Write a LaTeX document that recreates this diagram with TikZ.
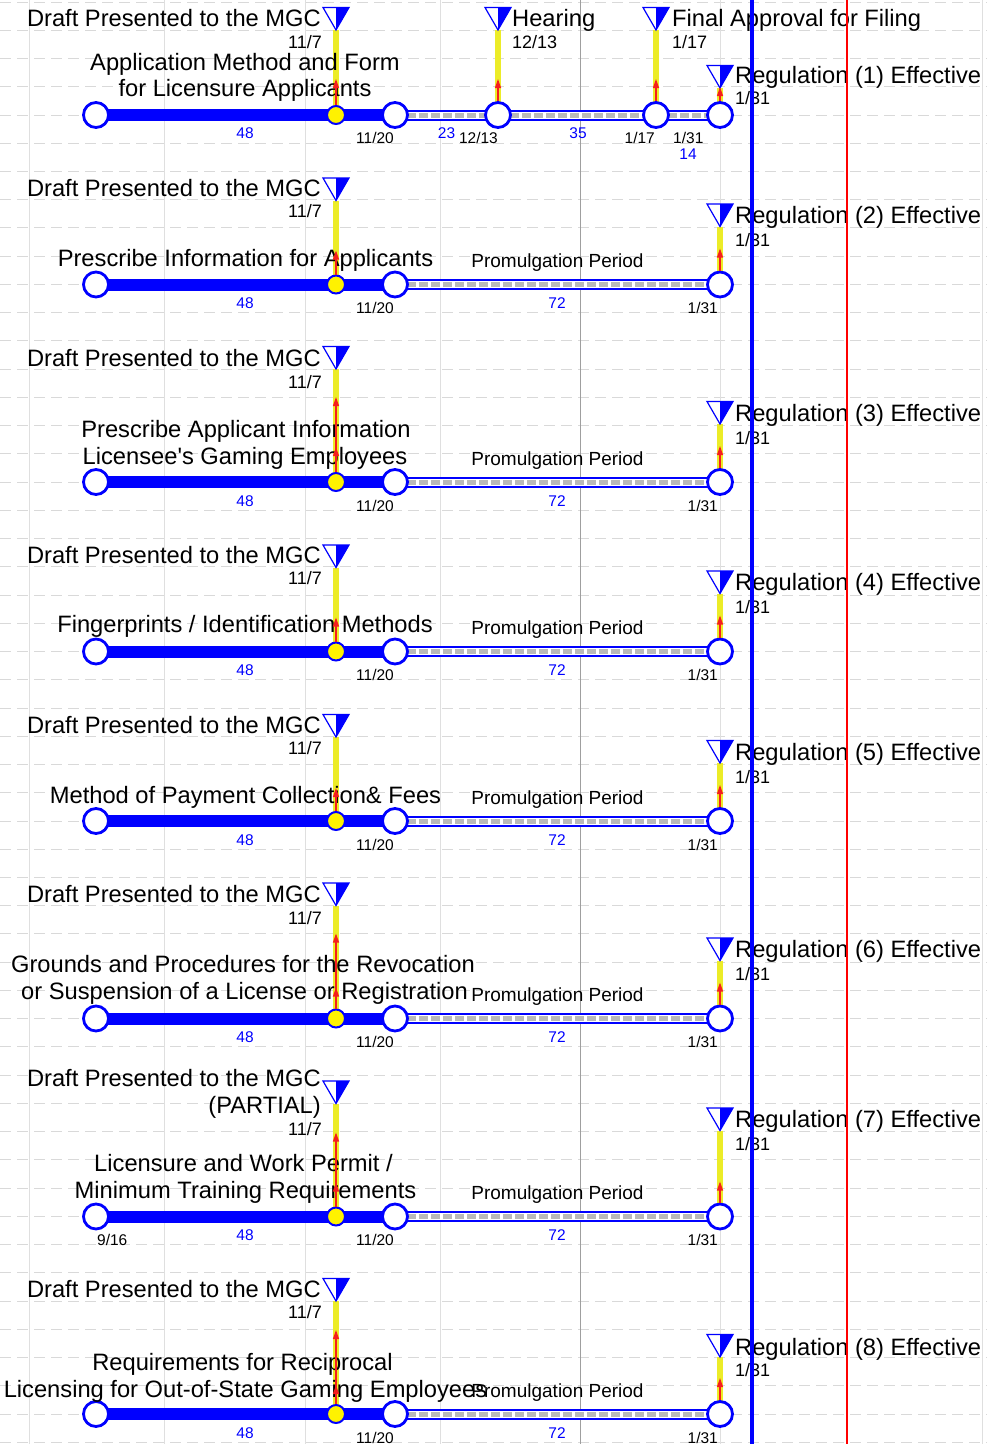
\documentclass[tikz,border=0pt]{standalone}
\usepackage{fontspec}
\setmainfont{Liberation Sans}
\usetikzlibrary{shapes.geometric,arrows.meta,backgrounds}
\definecolor{stemyellow}{RGB}{236,236,40}
\definecolor{linkred}{RGB}{245,30,30}
\definecolor{todayred}{RGB}{255,0,0}
\tikzset{
  bigtxt/.style={font=\fontsize{23.7}{27}\selectfont,inner sep=0pt},
  topdate/.style={font=\fontsize{18}{21}\selectfont,inner sep=0pt},
  botdate/.style={font=\fontsize{15.5}{18}\selectfont,inner sep=0pt},
  durtxt/.style={font=\fontsize{15.5}{18}\selectfont,text=blue,inner sep=0pt},
  promtxt/.style={font=\fontsize{19}{22}\selectfont,inner sep=0pt},
  evt/.style={circle,draw=blue,line width=2.8pt,fill=white,minimum size=25pt,inner sep=0pt},
  ydot/.style={circle,draw=blue,line width=2pt,fill=yellow,minimum size=18pt,inner sep=0pt},
  mstone/.style={regular polygon,regular polygon sides=3,shape border rotate=180,draw=blue,line width=1.2pt,fill=white,minimum size=30pt,inner sep=0pt,outer sep=0pt,
    path picture={\fill[blue] (path picture bounding box.north) rectangle (path picture bounding box.south east);}},
  donebar/.style={blue,line width=12pt},
  todobar/.style={draw=blue,line width=11pt,postaction={draw=white,line width=7pt},postaction={draw=gray!55,line width=5pt,dash pattern=on 8.5pt off 3.5pt}},
  stem/.style={draw=stemyellow,line width=6pt},
  link/.style={draw=linkred,line width=1.2pt,-{Triangle[length=9pt,width=6pt]}},
  hgrid/.style={gray!30,line width=1pt,dash pattern=on 11pt off 6pt},
  vgrid/.style={gray!25,line width=1pt}
}
\begin{document}
\begin{tikzpicture}[x=1pt,y=-1pt]
\useasboundingbox (0,0) rectangle (987,1444);
\node[evt] (s1) at (96,115) {};
\node[ydot] (y1) at (336,115) {};
\node[evt] (d1) at (395,115) {};
\node[evt] (h1) at (498,115) {};
\node[evt] (f1) at (656,115) {};
\node[evt] (e1) at (720,115) {};
\node[mstone,anchor=corner 1] (mg1) at (336,30) {};
\node[mstone,anchor=corner 1] (mh1) at (498,30) {};
\node[mstone,anchor=corner 1] (mf1) at (656,30) {};
\node[mstone,anchor=corner 1] (mr1) at (720,88) {};
\node[bigtxt,anchor=base east] (lg1) at (321,26) {Draft Presented to the MGC};
\node[topdate,anchor=base east] (ld1) at (322,48) {11/7};
\node[bigtxt,anchor=base west] (lh1) at (512,26) {Hearing};
\node[topdate,anchor=base west] (lhd1) at (512,48) {12/13};
\node[bigtxt,anchor=base west] (lf1) at (672,26) {Final Approval for Filing};
\node[topdate,anchor=base west] (lfd1) at (672,48) {1/17};
\node[bigtxt,anchor=base west] (lr1) at (735,83) {Regulation (1) Effective};
\node[topdate,anchor=base west] (lrd1) at (735,104) {1/31};
\node[bigtxt,anchor=base] (lt1a) at (245,70) {Application Method and Form};
\node[bigtxt,anchor=base] (lt1b) at (245,96) {for Licensure Applicants};
\node[durtxt,anchor=base] (n1a) at (245,138) {48};
\node[durtxt,anchor=base] (n1b) at (446.5,138) {23};
\node[durtxt,anchor=base] (n1c) at (578,138) {35};
\node[durtxt,anchor=base] (n1d) at (688,159) {14};
\node[botdate,anchor=base east] (b1a) at (394,143) {11/20};
\node[botdate,anchor=base east] (b1b) at (498,143) {12/13};
\node[botdate,anchor=base east] (b1c) at (655,143) {1/17};
\node[botdate,anchor=base west] (b1d) at (673,143) {1/31};
\coordinate (k1) at (336,79);
\coordinate (kh1) at (498,79);
\coordinate (kf1) at (656,79);
\coordinate (kr1) at (720,87);
\draw[link] (y1) -- (k1);
\draw[link] (h1) -- (kh1);
\draw[link] (f1) -- (kf1);
\draw[link] (e1) -- (kr1);

\node[evt] (s2) at (96,284.5) {};
\node[ydot] (y2) at (336,284.5) {};
\node[evt] (d2) at (395,284.5) {};
\node[evt] (e2) at (720,284.5) {};
\node[mstone,anchor=corner 1] (mg2) at (336,200.5) {};
\node[mstone,anchor=corner 1] (mr2) at (720,226.5) {};
\node[bigtxt,anchor=base east] (lg2) at (321,196.5) {Draft Presented to the MGC};
\node[topdate,anchor=base east] (ld2) at (322,217.5) {11/7};
\node[bigtxt,anchor=base] (lt2) at (245.5,266.5) {Prescribe Information for Applicants};
\node[promtxt,anchor=base] (p2) at (557.5,267.5) {Promulgation Period};
\node[durtxt,anchor=base] (n2a) at (245,308.5) {48};
\node[durtxt,anchor=base] (n2b) at (557,308.5) {72};
\node[botdate,anchor=base east] (b2a) at (394,313.5) {11/20};
\node[botdate,anchor=base east] (b2b) at (718,313.5) {1/31};
\node[bigtxt,anchor=base west] (lr2) at (735,223.5) {Regulation (2) Effective};
\node[topdate,anchor=base west] (lrd2) at (735,246.5) {1/31};
\coordinate (k2) at (336,250.5);
\coordinate (kr2) at (720,248.5);
\draw[link] (y2) -- (k2);
\draw[link] (e2) -- (kr2);

\node[evt] (s3) at (96,482) {};
\node[ydot] (y3) at (336,482) {};
\node[evt] (d3) at (395,482) {};
\node[evt] (e3) at (720,482) {};
\node[mstone,anchor=corner 1] (mg3) at (336,369) {};
\node[mstone,anchor=corner 1] (mr3) at (720,424) {};
\node[bigtxt,anchor=base east] (lg3) at (321,366) {Draft Presented to the MGC};
\node[topdate,anchor=base east] (ld3) at (322,388) {11/7};
\node[bigtxt,anchor=base] (lt3a) at (246,437) {Prescribe Applicant Information};
\node[bigtxt,anchor=base] (lt3b) at (245,464) {Licensee\textquotesingle s Gaming Employees};
\node[promtxt,anchor=base] (p3) at (557.5,465) {Promulgation Period};
\node[durtxt,anchor=base] (n3a) at (245,506) {48};
\node[durtxt,anchor=base] (n3b) at (557,506) {72};
\node[botdate,anchor=base east] (b3a) at (394,511) {11/20};
\node[botdate,anchor=base east] (b3b) at (718,511) {1/31};
\node[bigtxt,anchor=base west] (lr3) at (735,421) {Regulation (3) Effective};
\node[topdate,anchor=base west] (lrd3) at (735,444) {1/31};
\coordinate (k3a) at (336,447);
\coordinate (k3b) at (336,397);
\coordinate (kr3) at (720,446);
\draw[link] (y3) -- (k3a);
\draw[link] (y3) -- (k3b);
\draw[link] (e3) -- (kr3);

\node[evt] (s4) at (96,651.5) {};
\node[ydot] (y4) at (336,651.5) {};
\node[evt] (d4) at (395,651.5) {};
\node[evt] (e4) at (720,651.5) {};
\node[mstone,anchor=corner 1] (mg4) at (336,567.5) {};
\node[mstone,anchor=corner 1] (mr4) at (720,593.5) {};
\node[bigtxt,anchor=base east] (lg4) at (321,563.5) {Draft Presented to the MGC};
\node[topdate,anchor=base east] (ld4) at (322,584.5) {11/7};
\node[bigtxt,anchor=base] (lt4) at (245,632.5) {Fingerprints / Identification Methods};
\node[promtxt,anchor=base] (p4) at (557.5,634.5) {Promulgation Period};
\node[durtxt,anchor=base] (n4a) at (245,675.5) {48};
\node[durtxt,anchor=base] (n4b) at (557,675.5) {72};
\node[botdate,anchor=base east] (b4a) at (394,680.5) {11/20};
\node[botdate,anchor=base east] (b4b) at (718,680.5) {1/31};
\node[bigtxt,anchor=base west] (lr4) at (735,590.5) {Regulation (4) Effective};
\node[topdate,anchor=base west] (lrd4) at (735,613.5) {1/31};
\coordinate (k4) at (336,617.5);
\coordinate (kr4) at (720,615.5);
\draw[link] (y4) -- (k4);
\draw[link] (e4) -- (kr4);

\node[evt] (s5) at (96,821) {};
\node[ydot] (y5) at (336,821) {};
\node[evt] (d5) at (395,821) {};
\node[evt] (e5) at (720,821) {};
\node[mstone,anchor=corner 1] (mg5) at (336,737) {};
\node[mstone,anchor=corner 1] (mr5) at (720,763) {};
\node[bigtxt,anchor=base east] (lg5) at (321,733) {Draft Presented to the MGC};
\node[topdate,anchor=base east] (ld5) at (322,754) {11/7};
\node[bigtxt,anchor=base] (lt5) at (245.5,803) {Method of Payment Collection\& Fees};
\node[promtxt,anchor=base] (p5) at (557.5,804) {Promulgation Period};
\node[durtxt,anchor=base] (n5a) at (245,845) {48};
\node[durtxt,anchor=base] (n5b) at (557,845) {72};
\node[botdate,anchor=base east] (b5a) at (394,850) {11/20};
\node[botdate,anchor=base east] (b5b) at (718,850) {1/31};
\node[bigtxt,anchor=base west] (lr5) at (735,760) {Regulation (5) Effective};
\node[topdate,anchor=base west] (lrd5) at (735,783) {1/31};
\coordinate (k5) at (336,788);
\coordinate (kr5) at (720,785);
\draw[link] (y5) -- (k5);
\draw[link] (e5) -- (kr5);

\node[evt] (s6) at (96,1018.5) {};
\node[ydot] (y6) at (336,1018.5) {};
\node[evt] (d6) at (395,1018.5) {};
\node[evt] (e6) at (720,1018.5) {};
\node[mstone,anchor=corner 1] (mg6) at (336,905.5) {};
\node[mstone,anchor=corner 1] (mr6) at (720,960.5) {};
\node[bigtxt,anchor=base east] (lg6) at (321,902.5) {Draft Presented to the MGC};
\node[topdate,anchor=base east] (ld6) at (322,924.5) {11/7};
\node[bigtxt,anchor=base] (lt6a) at (243,972.5) {Grounds and Procedures for the Revocation};
\node[bigtxt,anchor=base] (lt6b) at (244.5,999.5) {or Suspension of a License or Registration};
\node[promtxt,anchor=base] (p6) at (557.5,1001.5) {Promulgation Period};
\node[durtxt,anchor=base] (n6a) at (245,1042.5) {48};
\node[durtxt,anchor=base] (n6b) at (557,1042.5) {72};
\node[botdate,anchor=base east] (b6a) at (394,1047.5) {11/20};
\node[botdate,anchor=base east] (b6b) at (718,1047.5) {1/31};
\node[bigtxt,anchor=base west] (lr6) at (735,957.5) {Regulation (6) Effective};
\node[topdate,anchor=base west] (lrd6) at (735,980.5) {1/31};
\coordinate (k6a) at (336,987.5);
\coordinate (k6b) at (336,933.5);
\coordinate (kr6) at (720,982.5);
\draw[link] (y6) -- (k6a);
\draw[link] (y6) -- (k6b);
\draw[link] (e6) -- (kr6);

\node[evt] (s7) at (96,1216.5) {};
\node[ydot] (y7) at (336,1216.5) {};
\node[evt] (d7) at (395,1216.5) {};
\node[evt] (e7) at (720,1216.5) {};
\node[mstone,anchor=corner 1] (mg7) at (336,1103.5) {};
\node[mstone,anchor=corner 1] (mr7) at (720,1130.5) {};
\node[bigtxt,anchor=base east] (lg7a) at (321,1086.5) {Draft Presented to the MGC};
\node[bigtxt,anchor=base east] (lg7b) at (321,1113.5) {(PARTIAL)};
\node[topdate,anchor=base east] (ld7) at (322,1135.5) {11/7};
\node[bigtxt,anchor=base] (lt7a) at (243.5,1171.5) {Licensure and Work Permit /};
\node[bigtxt,anchor=base] (lt7b) at (245.5,1198.5) {Minimum Training Requirements};
\node[promtxt,anchor=base] (p7) at (557.5,1199.5) {Promulgation Period};
\node[durtxt,anchor=base] (n7a) at (245,1240.5) {48};
\node[durtxt,anchor=base] (n7b) at (557,1240.5) {72};
\node[botdate,anchor=base west] (b7s) at (97,1245.5) {9/16};
\node[botdate,anchor=base east] (b7a) at (394,1245.5) {11/20};
\node[botdate,anchor=base east] (b7b) at (718,1245.5) {1/31};
\node[bigtxt,anchor=base west] (lr7) at (735,1127.5) {Regulation (7) Effective};
\node[topdate,anchor=base west] (lrd7) at (735,1150.5) {1/31};
\coordinate (k7a) at (336,1182.5);
\coordinate (k7b) at (336,1132.5);
\coordinate (kr7) at (720,1181.5);
\draw[link] (y7) -- (k7a);
\draw[link] (y7) -- (k7b);
\draw[link] (e7) -- (kr7);

\node[evt] (s8) at (96,1414) {};
\node[ydot] (y8) at (336,1414) {};
\node[evt] (d8) at (395,1414) {};
\node[evt] (e8) at (720,1414) {};
\node[mstone,anchor=corner 1] (mg8) at (336,1301) {};
\node[mstone,anchor=corner 1] (mr8) at (720,1357) {};
\node[bigtxt,anchor=base east] (lg8) at (321,1297) {Draft Presented to the MGC};
\node[topdate,anchor=base east] (ld8) at (322,1318) {11/7};
\node[bigtxt,anchor=base] (lt8a) at (242.5,1370) {Requirements for Reciprocal};
\node[bigtxt,anchor=base] (lt8b) at (245.5,1397) {Licensing for Out-of-State Gaming Employees};
\node[promtxt,anchor=base] (p8) at (557.5,1397) {Promulgation Period};
\node[durtxt,anchor=base] (n8a) at (245,1438) {48};
\node[durtxt,anchor=base] (n8b) at (557,1438) {72};
\node[botdate,anchor=base east] (b8a) at (394,1443) {11/20};
\node[botdate,anchor=base east] (b8b) at (718,1443) {1/31};
\node[bigtxt,anchor=base west] (lr8) at (735,1355) {Regulation (8) Effective};
\node[topdate,anchor=base west] (lrd8) at (735,1376) {1/31};
\coordinate (k8a) at (336,1385);
\coordinate (k8b) at (336,1330);
\coordinate (kr8) at (720,1378);
\draw[link] (y8) -- (k8a);
\draw[link] (y8) -- (k8b);
\draw[link] (e8) -- (kr8);

\begin{scope}[on background layer]
\fill[white] (0,0) rectangle (987,1444);
\foreach \k in {0,...,51} \draw[hgrid] (0,{2.04+28.24*\k}) -- (987,{2.04+28.24*\k});
\foreach \x in {29,164,305,440,720,982} \draw[vgrid] (\x,0) -- (\x,1444);
\draw[vgrid,draw=gray!75] (580,0) -- (580,1444);
\draw[donebar] (s1.center) -- (d1.center);
\draw[todobar] (d1.center) -- (h1.center);
\draw[todobar] (h1.center) -- (f1.center);
\draw[todobar] (f1.center) -- (e1.center);
\draw[stem] (mg1.corner 1) -- (y1.center);
\draw[stem] (mh1.corner 1) -- (h1.center);
\draw[stem] (mf1.corner 1) -- (f1.center);
\draw[stem] (mr1.corner 1) -- (e1.center);
\draw[donebar] (s2.center) -- (d2.center);
\draw[todobar] (d2.center) -- (e2.center);
\draw[stem] (mg2.corner 1) -- (y2.center);
\draw[stem] (mr2.corner 1) -- (e2.center);
\draw[donebar] (s3.center) -- (d3.center);
\draw[todobar] (d3.center) -- (e3.center);
\draw[stem] (mg3.corner 1) -- (y3.center);
\draw[stem] (mr3.corner 1) -- (e3.center);
\draw[donebar] (s4.center) -- (d4.center);
\draw[todobar] (d4.center) -- (e4.center);
\draw[stem] (mg4.corner 1) -- (y4.center);
\draw[stem] (mr4.corner 1) -- (e4.center);
\draw[donebar] (s5.center) -- (d5.center);
\draw[todobar] (d5.center) -- (e5.center);
\draw[stem] (mg5.corner 1) -- (y5.center);
\draw[stem] (mr5.corner 1) -- (e5.center);
\draw[donebar] (s6.center) -- (d6.center);
\draw[todobar] (d6.center) -- (e6.center);
\draw[stem] (mg6.corner 1) -- (y6.center);
\draw[stem] (mr6.corner 1) -- (e6.center);
\draw[donebar] (s7.center) -- (d7.center);
\draw[todobar] (d7.center) -- (e7.center);
\draw[stem] (mg7.corner 1) -- (y7.center);
\draw[stem] (mr7.corner 1) -- (e7.center);
\draw[donebar] (s8.center) -- (d8.center);
\draw[todobar] (d8.center) -- (e8.center);
\draw[stem] (mg8.corner 1) -- (y8.center);
\draw[stem] (mr8.corner 1) -- (e8.center);
\end{scope}

\draw[blue,line width=3.5pt] (752,0) -- (752,1444);
\draw[todayred,line width=1.5pt] (847,0) -- (847,1444);
\end{tikzpicture}
\end{document}
